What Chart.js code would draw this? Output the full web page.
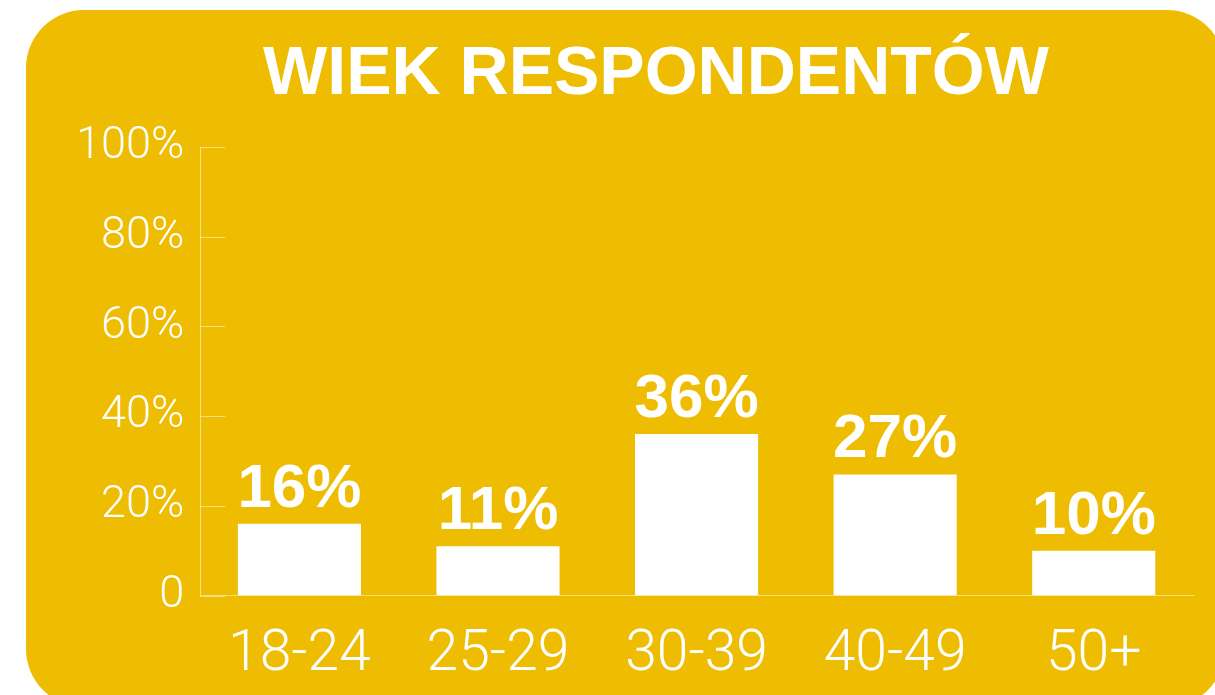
<!DOCTYPE html>
<html>
<head>
<meta charset="utf-8">
<script src="https://cdn.jsdelivr.net/npm/chart.js@4"></script>
<style>
  body { margin: 0; background: #fff; width: 1215px; height: 695px; overflow: hidden; position: relative; font-family: "Liberation Sans", Arial, sans-serif; }
  #panel { position: absolute; left: 26px; top: 10px; width: 1199px; height: 697px; border-radius: 58px; background: #EEBC00; }
  #tytul { position: absolute; left: 0; top: 36px; width: 1312px; text-align: center; color: #fff; font-weight: bold; font-size: 68px; line-height: 68px; margin: 0; }
  #wrap { position: absolute; left: 0; top: 0; width: 1215px; height: 726px; }
</style>
</head>
<body>
<div id="panel"></div>
<h1 id="tytul">WIEK RESPONDENTÓW</h1>
<div id="wrap"><canvas id="wykres"></canvas></div>
<script>
// dane
const kategorie = ['18-24', '25-29', '30-39', '40-49', '50+'];
const wartosci = [16, 11, 36, 27, 10];
const podzialkaY = [0, 20, 40, 60, 80, 100];

const linia = 'rgba(255,255,255,0.5)';

// kreski podzialki do srodka + etykiety nad slupkami
const etykiety = {
  id: 'etykiety',
  afterDatasetsDraw(chart) {
    const ctx = chart.ctx;
    const y = chart.scales.y;
    ctx.save();
    ctx.strokeStyle = linia;
    ctx.lineWidth = 1;
    y.ticks.forEach(t => {
      const py = Math.round(y.getPixelForValue(t.value)) + 0.5;
      ctx.beginPath();
      ctx.moveTo(y.right, py);
      ctx.lineTo(y.right + 25, py);
      ctx.stroke();
    });
    ctx.fillStyle = '#fff';
    ctx.font = 'bold 62px "Liberation Sans", Arial, sans-serif';
    ctx.textAlign = 'center';
    ctx.textBaseline = 'alphabetic';
    chart.getDatasetMeta(0).data.forEach((bar, i) => {
      ctx.fillText(wartosci[i] + '%', bar.x, bar.y - 17);
    });
    ctx.restore();
  }
};

function rysuj() {
  const ctx = document.getElementById('wykres').getContext('2d');
  new Chart(ctx, {
    type: 'bar',
    data: {
      labels: kategorie,
      datasets: [{
        data: wartosci,
        backgroundColor: '#fff',
        borderWidth: 0,
        barPercentage: 0.62,
        categoryPercentage: 1
      }]
    },
    options: {
      responsive: true,
      maintainAspectRatio: false,
      animation: false,
      layout: { padding: { left: 60, right: 22, top: 147, bottom: 10 } },
      plugins: { legend: { display: false }, tooltip: { enabled: false } },
      scales: {
        x: {
          grid: { display: false, drawTicks: false },
          border: { display: true, color: linia, width: 1 },
          ticks: {
            color: '#fff',
            padding: 26,
            font: { family: 'Roboto', weight: 300, size: 57 }
          }
        },
        y: {
          min: 0,
          max: 100,
          afterBuildTicks: scale => { scale.ticks = podzialkaY.map(v => ({ value: v })); },
          grid: { display: false, drawTicks: false },
          border: { display: true, color: linia, width: 1 },
          ticks: {
            color: '#fff',
            padding: 16,
            font: { family: 'Roboto', weight: 300, size: 45 },
            callback: v => v === 0 ? '0' : v + '%'
          }
        }
      }
    },
    plugins: [etykiety]
  });
}

window.addEventListener('DOMContentLoaded', () => {
  rysuj();
});
</script>
</body>
</html>
